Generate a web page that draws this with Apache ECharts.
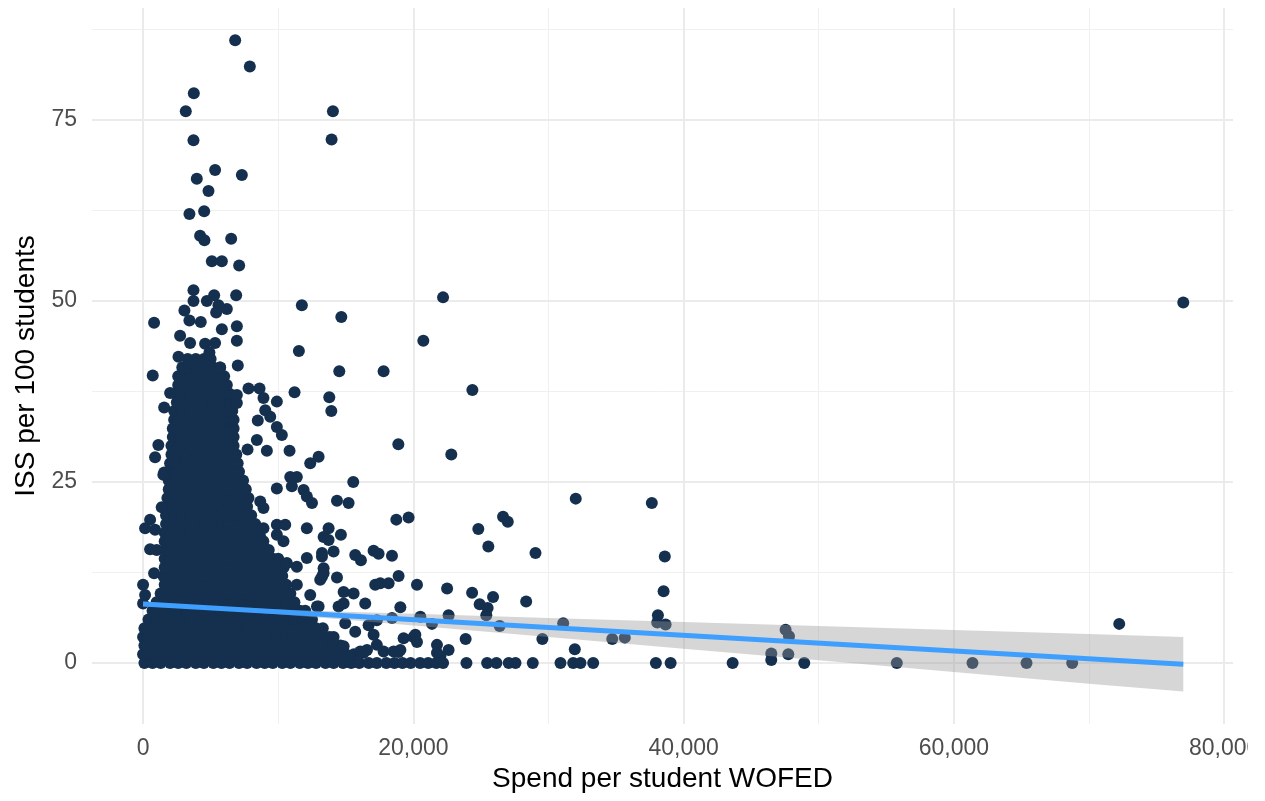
<!DOCTYPE html>
<html>
<head>
<meta charset="utf-8">
<script src="https://cdn.jsdelivr.net/npm/echarts@6/dist/echarts.min.js"></script>
<style>
  html, body { margin: 0; padding: 0; background: #fff; }
  #chart { width: 1265px; height: 801px; }
</style>
</head>
<body>
<div id="chart"></div>
<script>
// axis ticks
const xTicks = [0, 20000, 40000, 60000, 80000];
const yTicks = [0, 25, 50, 75];
const xMinor = [10000, 30000, 50000, 70000];
const yMinor = [12.5, 37.5, 62.5, 87.5];

// dense core of the cloud, one row per ISS level: [y, x1, x2, ...], x in thousands
const coreRows = [
  [0, 0.1,0.7,1.3,2.0,2.6,3.2,3.9,4.5,5.2,5.8,6.4,7.1,7.7,8.4,9.0,9.6,10.3,10.9,11.6,12.2,12.8,13.5,14.1,14.8,15.4,16.0,16.7,17.3,18.0,18.6,19.2,19.8],
  [1.2, 0.0,0.4,1.0,1.6,2.3,2.9,3.5,4.2,4.8,5.5,6.1,6.7,7.4,8.0,8.7,9.3,9.9,10.6,11.2,11.9,12.5,13.1,13.8,14.4,15.0,15.6],
  [2.4, 0.1,0.7,1.3,2.0,2.6,3.2,3.9,4.5,5.2,5.8,6.4,7.1,7.7,8.4,9.0,9.6,10.3,10.9,11.6,12.2,12.8,13.5,14.1,14.6],
  [3.6, 0.0,0.4,1.0,1.6,2.3,2.9,3.5,4.2,4.8,5.5,6.1,6.7,7.4,8.0,8.7,9.3,9.9,10.6,11.2,11.9,12.5,13.1,13.8],
  [4.8, 0.1,0.7,1.3,2.0,2.6,3.2,3.9,4.5,5.2,5.8,6.4,7.1,7.7,8.4,9.0,9.6,10.3,10.9,11.6,12.2,12.8,13.3],
  [6.0, 0.4,1.0,1.6,2.3,2.9,3.5,4.2,4.8,5.5,6.1,6.7,7.4,8.0,8.7,9.3,9.9,10.6,11.2,11.9,12.5],
  [7.2, 0.7,1.3,2.0,2.6,3.2,3.9,4.5,5.2,5.8,6.4,7.1,7.7,8.4,9.0,9.6,10.3,10.9,11.6,12.0],
  [8.4, 1.0,1.6,2.3,2.9,3.5,4.2,4.8,5.5,6.1,6.7,7.4,8.0,8.7,9.3,9.9,10.6,11.2],
  [9.6, 1.3,2.0,2.6,3.2,3.9,4.5,5.2,5.8,6.4,7.1,7.7,8.4,9.0,9.6,10.3,10.9],
  [10.8, 1.6,2.3,2.9,3.5,4.2,4.8,5.5,6.1,6.7,7.4,8.0,8.7,9.3,9.9,10.6],
  [12.0, 1.5,2.0,2.6,3.2,3.9,4.5,5.2,5.8,6.4,7.1,7.7,8.4,9.0,9.6,10.3],
  [13.2, 1.6,2.3,2.9,3.5,4.2,4.8,5.5,6.1,6.7,7.4,8.0,8.7,9.3,9.9,10.4],
  [14.4, 1.6,2.0,2.6,3.2,3.9,4.5,5.2,5.8,6.4,7.1,7.7,8.4,9.0,9.6,10.0],
  [15.6, 1.6,2.3,2.9,3.5,4.2,4.8,5.5,6.1,6.7,7.4,8.0,8.7,9.3],
  [16.8, 1.6,2.0,2.6,3.2,3.9,4.5,5.2,5.8,6.4,7.1,7.7,8.4,8.9],
  [18.0, 1.6,2.3,2.9,3.5,4.2,4.8,5.5,6.1,6.7,7.4,8.0,8.4],
  [19.2, 1.7,2.0,2.6,3.2,3.9,4.5,5.2,5.8,6.4,7.1,7.7,8.3],
  [20.4, 1.7,2.3,2.9,3.5,4.2,4.8,5.5,6.1,6.7,7.4,8.0],
  [21.6, 1.9,2.6,3.2,3.9,4.5,5.2,5.8,6.4,7.1,7.7],
  [22.8, 1.8,2.3,2.9,3.5,4.2,4.8,5.5,6.1,6.7,7.4,7.8],
  [24.0, 1.9,2.6,3.2,3.9,4.5,5.2,5.8,6.4,7.1,7.6],
  [25.2, 1.9,2.3,2.9,3.5,4.2,4.8,5.5,6.1,6.7,7.4],
  [26.4, 2.0,2.6,3.2,3.9,4.5,5.2,5.8,6.4,7.1],
  [27.6, 2.0,2.3,2.9,3.5,4.2,4.8,5.5,6.1,6.7,7.0],
  [28.8, 2.1,2.6,3.2,3.9,4.5,5.2,5.8,6.4,6.9],
  [30.0, 2.1,2.3,2.9,3.5,4.2,4.8,5.5,6.1,6.7],
  [31.2, 2.2,2.6,3.2,3.9,4.5,5.2,5.8,6.4,6.7],
  [32.4, 2.2,2.9,3.5,4.2,4.8,5.5,6.1,6.7],
  [33.6, 2.3,2.6,3.2,3.9,4.5,5.2,5.8,6.4,6.7],
  [34.8, 2.3,2.9,3.5,4.2,4.8,5.5,6.1,6.6],
  [36.0, 2.5,3.2,3.9,4.5,5.2,5.8,6.4],
  [37.2, 2.4,2.9,3.5,4.2,4.8,5.5,6.1,6.4],
  [38.4, 2.6,3.2,3.9,4.5,5.2,5.8,6.2],
  [39.6, 2.6,3.0,3.5,4.2,4.8,5.5,6.0],
  [40.8, 2.9,3.4,3.9,4.5,5.2,5.7],
  [42.0, 3.3,3.9,4.5,5.0]
];

// points outside the core: [spend, ISS]
const outliers = [
  [6815,86.0],[7900,82.4],[3755,78.7],[3160,76.2],[14050,76.2],[3730,72.2],[13950,72.3],
  [5330,68.1],[3975,66.9],[7310,67.4],[4840,65.2],[3430,62.0],[4520,62.4],[4220,59.0],
  [4540,58.4],[6520,58.6],[5090,55.5],[5830,55.5],[7110,54.9],[3730,51.5],[5260,50.8],
  [6890,50.8],[22200,50.5],[11750,49.4],[76980,49.8],[3730,50.0],[4720,50.0],[5580,49.4],
  [6200,48.9],[5410,48.4],[3060,48.7],[815,47.0],[14670,47.8],[3430,47.3],[4270,47.1],
  [5830,46.1],[6940,46.5],[2740,45.2],[3480,44.2],[4590,44.1],[5330,44.2],[6940,44.5],
  [20740,44.5],[11530,43.1],[4910,42.9],[2620,42.3],[3430,41.5],[4840,41.0],[5700,40.8],
  [7010,41.1],[715,39.7],[14520,40.3],[17800,40.3],[5900,38.4],[2000,37.3],[7800,37.9],
  [8620,37.9],[6940,37.0],[6940,35.9],[8910,36.6],[9900,36.1],[11210,37.4],[24370,37.7],
  [13780,36.7],[13930,34.8],[1560,35.3],[9040,34.9],[9410,34.0],[8490,33.5],[9900,32.6],
  [10270,31.5],[10840,29.3],[1130,30.1],[890,28.4],[8420,30.8],[9160,29.3],[7730,29.5],
  [12990,28.5],[12370,27.6],[18890,30.2],[22810,28.8],[1560,26.3],[2250,27.8],
  [15555,25.0],[1500,26.0],[1380,21.5],[520,19.8],[150,18.6],[890,18.4],[520,15.7],
  [1010,15.6],[815,12.4],[0,10.8],[150,9.4],[0,8.2],[9900,24.1],[11010,24.4],[11880,23.9],
  [12120,23.0],[12500,22.1],[8670,22.3],[8910,21.4],[10890,25.7],[11380,25.7],[9900,19.1],
  [10520,19.1],[9900,17.7],[10390,16.8],[12120,18.6],[8910,18.6],[8670,17.4],[13360,17.4],
  [10640,13.8],[11380,13.3],[12120,14.5],[13240,14.7],[13360,13.1],[13240,11.9],[11380,10.8],
  [12370,9.4],[12990,7.8],[14350,22.4],[15210,22.1],[18740,19.8],[19650,20.1],[13730,18.6],
  [13730,17.0],[14640,17.7],[24810,18.5],[13240,15.2],[14100,15.4],[13360,12.4],[15700,14.9],
  [16120,14.2],[17060,15.5],[17430,15.1],[18420,14.8],[25550,16.1],[14350,11.8],[13110,11.5],
  [18910,12.0],[17180,10.8],[17550,11.0],[18170,11.0],[20270,10.8],[22500,10.3],[14840,9.8],
  [15580,9.6],[16440,8.2],[24350,9.7],[25900,9.1],[24910,8.1],[25500,7.6],[28350,8.5],
  [38520,9.9],[38610,14.7],[29040,15.2],[26640,20.2],[26990,19.5],[32020,22.7],[37650,22.1],
  [14470,7.8],[14840,8.2],[12870,7.8],[19040,7.7],[16690,5.2],[17300,5.9],[18420,6.2],
  [20520,6.4],[22610,6.6],[25400,6.6],[21380,5.4],[26390,5.1],[31090,5.5],[38100,6.6],
  [38050,5.6],[38670,5.3],[14960,5.5],[15700,4.3],[17060,3.9],[17300,2.5],[19280,3.4],
  [20020,3.6],[20270,2.9],[20150,3.9],[21750,2.5],[22610,1.8],[22000,0.9],[14100,3.6],
  [13110,2.7],[14840,2.3],[16070,1.6],[16570,1.8],[17800,1.6],[18540,1.6],[19040,1.8],
  [23870,3.3],[29550,3.3],[34720,3.3],[35650,3.5],[31950,1.9],[47550,4.6],[47800,3.7],
  [46490,1.3],[47750,1.2],[46490,0.4],[72240,5.4],[16320,1.4],[18900,1.5],[21750,1.4],
  [20500,0],[21100,0],[21700,0],[22200,0],[23930,0],[25460,0],[26150,0],[27060,0],[27560,0],
  [28840,0],[30890,0],[31830,0],[32370,0],[33310,0],[37950,0],[39040,0],[43630,0],[48930,0],
  [55780,0],[61380,0],[65380,0],[68760,0]
];

// linear fit and its confidence band
const fitX = [0, 76980];
const fitY = [8.15, -0.18];
const bandX = [0, 5000, 10000, 15000, 20000, 30000, 40000, 50000, 60000, 70000, 76980];
const bandUpper = [8.49, 7.81, 7.40, 7.09, 6.79, 6.21, 5.66, 5.10, 4.55, 3.99, 3.58];
const bandLower = [7.81, 7.41, 6.74, 5.97, 5.17, 3.59, 1.96, 0.36, -1.25, -2.87, -3.94];

const font = 'Liberation Sans, Arial, sans-serif';
const major = { color: '#EBEBEB', width: 2, type: 'solid' };
const minor = { color: '#F0F0F0', width: 1, type: 'solid' };

const points = coreRows
  .flatMap(r => r.slice(1).map(x => [x * 1000, r[0]]))
  .concat(outliers);

const gridLines = [
  ...xMinor.map(v => ({ xAxis: v, lineStyle: minor })),
  ...yMinor.map(v => ({ yAxis: v, lineStyle: minor })),
  ...xTicks.map(v => ({ xAxis: v, lineStyle: major })),
  ...yTicks.map(v => ({ yAxis: v, lineStyle: major }))
];

const chart = echarts.init(document.getElementById('chart'));

chart.setOption({
  animation: false,
  backgroundColor: '#fff',
  grid: { left: 92, right: 32, top: 8, bottom: 77 },
  xAxis: {
    type: 'value',
    min: -3780,
    max: 80660,
    axisLine: { show: false },
    axisTick: { show: false },
    splitLine: { show: false },
    axisLabel: {
      customValues: xTicks,
      formatter: v => (v % 20000 === 0 ? v.toLocaleString('en-US') : ''),
      color: '#4D4D4D',
      fontSize: 23,
      fontFamily: font,
      margin: 13
    },
    name: 'Spend per student WOFED',
    nameLocation: 'middle',
    nameGap: 36,
    nameTextStyle: { color: '#000', fontSize: 28, fontFamily: font }
  },
  yAxis: {
    type: 'value',
    min: -8.43,
    max: 90.47,
    axisLine: { show: false },
    axisTick: { show: false },
    splitLine: { show: false },
    axisLabel: {
      customValues: yTicks,
      formatter: v => (v % 25 === 0 ? String(v) : ''),
      color: '#4D4D4D',
      fontSize: 23,
      fontFamily: font,
      margin: 15
    },
    name: 'ISS per 100 students',
    nameLocation: 'middle',
    nameRotate: 90,
    nameGap: 52,
    nameTextStyle: { color: '#000', fontSize: 28, fontFamily: font }
  },
  series: [
    {
      type: 'line',
      data: [],
      z: 0,
      silent: true,
      markLine: {
        z: 0,
        silent: true,
        symbol: 'none',
        animation: false,
        label: { show: false },
        emphasis: { disabled: true },
        data: gridLines
      }
    },
    {
      type: 'scatter',
      data: points,
      z: 2,
      symbol: 'circle',
      symbolSize: 12,
      itemStyle: { color: '#14304E', opacity: 1 },
      silent: true
    },
    {
      type: 'custom',
      z: 3,
      silent: true,
      data: [[0, 0]],
      renderItem: (params, api) => {
        const pts = [];
        bandX.forEach((x, i) => pts.push(api.coord([x, bandUpper[i]])));
        for (let i = bandX.length - 1; i >= 0; i--) pts.push(api.coord([bandX[i], bandLower[i]]));
        return {
          type: 'polygon',
          shape: { points: pts },
          style: { fill: 'rgba(153,153,153,0.4)' }
        };
      }
    },
    {
      type: 'line',
      z: 4,
      silent: true,
      symbol: 'none',
      data: fitX.map((x, i) => [x, fitY[i]]),
      lineStyle: { color: '#3F9FFF', width: 5 }
    }
  ],
  graphic: [
    // the reference image is cut just after x=1247
    { type: 'rect', left: 1248, top: 728, shape: { width: 17, height: 40 }, style: { fill: '#fff' }, z: 100 }
  ]
});
</script>
</body>
</html>
